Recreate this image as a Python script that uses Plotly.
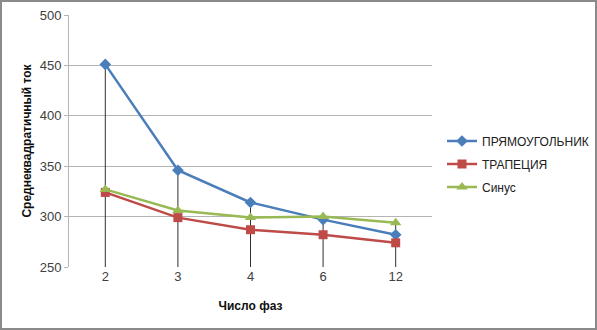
import plotly.graph_objects as go

categories = ["2", "3", "4", "6", "12"]
rect_vals = [451, 346, 314, 297, 282]
trap_vals = [324, 299, 287, 282, 274]
sin_vals = [327, 306, 299, 300, 294]
series_names = ["ПРЯМОУГОЛЬНИК", "ТРАПЕЦИЯ", "Синус"]
y_ticks = [250, 300, 350, 400, 450, 500]

W, H = 597, 330
L, R, T, B = 69, 165, 15, 63
pw, ph = W - L - R, H - T - B

fig = go.Figure()

# drop lines from the highest point of each category down to the axis
for i, c in enumerate(categories):
    top = max(rect_vals[i], trap_vals[i], sin_vals[i])
    fig.add_trace(go.Scatter(x=[c, c], y=[y_ticks[0], top], mode="lines",
                             line=dict(color="#303030", width=1),
                             showlegend=False, hoverinfo="skip"))

styles = [
    ("#4A7EBB", "diamond", 9),
    ("#BE4B48", "square", 9),
    ("#98B954", "triangle-up", 10),
]
for k, (name, vals, (col, sym, sz)) in enumerate(zip(series_names, [rect_vals, trap_vals, sin_vals], styles)):
    fig.add_trace(go.Scatter(x=categories, y=vals, mode="lines+markers", name=name,
                             legendgroup=f"g{k}",
                             line=dict(color=col, width=2.5),
                             marker=dict(symbol=sym, size=sz, color=col)))

fig.update_layout(
    width=W, height=H,
    margin=dict(l=L, r=R, t=T, b=B, autoexpand=False),
    paper_bgcolor="white", plot_bgcolor="white",
    font=dict(family="Liberation Sans, Arial, sans-serif", size=13, color="#404040"),
    legend=dict(xref="container", yref="container", x=442 / W, y=(H - 164) / H,
                xanchor="left", yanchor="middle", traceorder="grouped",
                font=dict(size=12, color="#202020"), tracegroupgap=4, itemwidth=30,
                bgcolor="rgba(0,0,0,0)"),
    xaxis=dict(type="category", range=[-0.5, 4.5], showgrid=False,
               showline=False, ticks="", zeroline=False,
               title=dict(text="<b>Число фаз</b>", font=dict(size=12, color="#101010"), standoff=18)),
    yaxis=dict(range=[250, 500], tickvals=y_ticks, showgrid=True, gridcolor="#b4b4b4",
               gridwidth=1, showline=True, linecolor="#b4b4b4", ticks="outside",
               ticklen=4, tickcolor="#b4b4b4", zeroline=False,
               title=dict(text="<b>Среднеквадратичный ток</b>", font=dict(size=12, color="#101010"),
                          standoff=5)),
    shapes=[dict(type="rect", xref="paper", yref="paper",
                 x0=(-L + 1) / pw, x1=1 + (R - 1) / pw,
                 y0=(-B + 1) / ph, y1=1 + (T - 1) / ph,
                 line=dict(color="#8a8a8a", width=2), layer="below")],
)

fig.write_html("out.html")
